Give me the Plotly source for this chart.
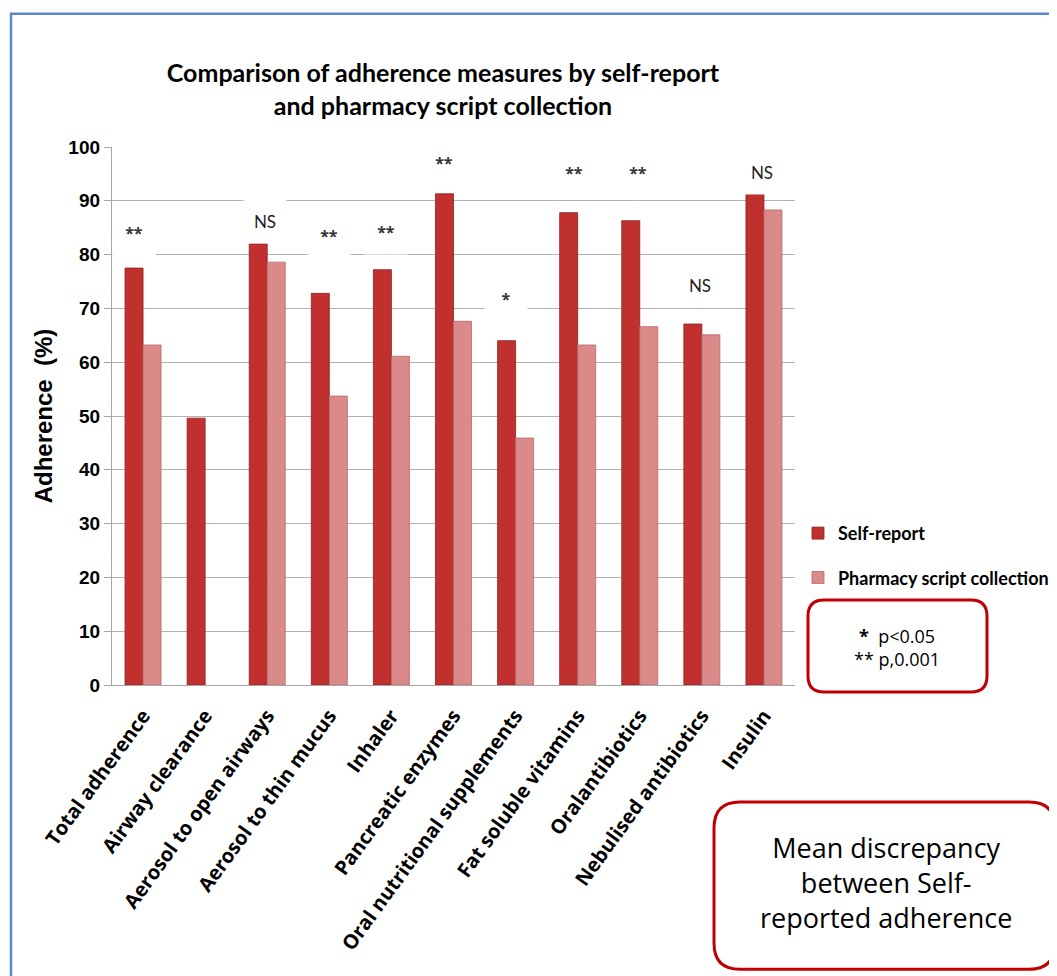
import plotly.graph_objects as go

categories = ["Total adherence", "Airway clearance", "Aerosol to open airways",
              "Aerosol to thin mucus", "Inhaler", "Pancreatic enzymes",
              "Oral nutritional supplements", "Fat soluble vitamins",
              "Oralantibiotics", "Nebulised antibiotics", "Insulin"]
self_report = [77.5, 49.6, 82.0, 72.8, 77.2, 91.3, 64.0, 87.8, 86.3, 67.1, 91.3]
pharmacy = [63.2, None, 78.6, 53.7, 61.1, 67.6, 45.9, 63.2, 66.6, 65.1, 88.3]
sig_labels = ["**", "", "NS", "**", "**", "**", "*", "**", "**", "NS", "NS"]
sig_label_y = [84.1, None, 86.3, 83.4, 84.2, 97.0, 71.7, 95.1, 95.2, 74.4, 95.4]
sig_xshift = [-9, 0, -2, 0, -5, -10, -10, -4, -2, -2, -2]
y_ticks = list(range(0, 101, 10))

OFF = 8  # page body margin
W, H = 1057 - OFF, 976 - OFF
# plot area in reference (page) pixels
L0, R0, T0, B0 = 112, 795, 147.3, 685
L, R, T, B = L0 - OFF, R0 - OFF, T0 - OFF, B0 - OFF


def px(x):
    return (x - L0) / (R0 - L0)


def py(y):
    return (B0 - y) / (B0 - T0)


def rrect(x0, y0, x1, y1, r):
    pts = [
        f"M {px(x0 + r)} {py(y0)}",
        f"L {px(x1 - r)} {py(y0)}",
        f"Q {px(x1)} {py(y0)} {px(x1)} {py(y0 + r)}",
        f"L {px(x1)} {py(y1 - r)}",
        f"Q {px(x1)} {py(y1)} {px(x1 - r)} {py(y1)}",
        f"L {px(x0 + r)} {py(y1)}",
        f"Q {px(x0)} {py(y1)} {px(x0)} {py(y1 - r)}",
        f"L {px(x0)} {py(y0 + r)}",
        f"Q {px(x0)} {py(y0)} {px(x0 + r)} {py(y0)}",
        "Z",
    ]
    return " ".join(pts)


NARROW = "Lato, Open Sans, sans-serif"
REG = "Open Sans, Noto Sans, sans-serif"
ARIAL = "Liberation Sans, Arial, sans-serif"

fig = go.Figure()
fig.add_trace(go.Bar(x=categories, y=self_report, name="Self-report",
                     legendgroup="a",
                     marker=dict(color="#C0302E", line=dict(color="#8E1F1F", width=0.8))))
fig.add_trace(go.Bar(x=categories, y=pharmacy, name="Pharmacy script collection",
                     legendgroup="b",
                     marker=dict(color="#DB8A8A", line=dict(color="#B56A6A", width=0.8))))

annotations = []
for c, s, yv, xs in zip(categories, sig_labels, sig_label_y, sig_xshift):
    if not s:
        continue
    if s == "NS":
        f = dict(family=NARROW, size=17, color="#222222")
    else:
        f = dict(family=REG, size=16, color="#333333", weight="bold")
    annotations.append(dict(
        x=c, y=yv, xref="x", yref="y", text=s, showarrow=False,
        xshift=xs, width=42, height=44, bgcolor="white", borderpad=0, font=f,
    ))

annotations.append(dict(
    x=px(897), y=py(648), xref="paper", yref="paper", showarrow=False,
    xanchor="center", yanchor="middle",
    text="<b>*</b>  p<0.05<br>** p,0.001", align="center",
    font=dict(family=REG, size=18, color="black"),
))
annotations.append(dict(
    x=px(886), y=py(882), xref="paper", yref="paper", showarrow=False,
    xanchor="center", yanchor="middle",
    text="Mean discrepancy<br>between Self-<br>reported adherence", align="center",
    font=dict(family=REG, size=27, color="black"),
))

shapes = [
    dict(type="path", xref="paper", yref="paper", path=rrect(808, 600, 987, 692, 16),
         line=dict(color="#C00000", width=3)),
    dict(type="path", xref="paper", yref="paper", path=rrect(714, 802, 1055, 969, 26),
         line=dict(color="#C00000", width=3)),
    dict(type="rect", xref="paper", yref="paper", x0=px(11), x1=px(1075), y0=py(14), y1=py(995),
         line=dict(color="#5B87C5", width=2.5)),
]

fig.update_layout(
    width=W, height=H,
    margin=dict(l=L, r=W - R, t=T, b=H - B, autoexpand=False),
    paper_bgcolor="white", plot_bgcolor="white",
    barmode="group", bargap=0.42, bargroupgap=0.0,
    title=dict(text="Comparison of adherence measures by self-report<br>and pharmacy script collection",
               x=(443 - OFF) / W, xanchor="center", y=1 - (82 - OFF) / H, yanchor="middle",
               font=dict(family=NARROW, size=25, color="black", weight="bold")),
    legend=dict(x=px(798), y=py(515), xanchor="left", yanchor="top",
                itemwidth=30,
                font=dict(family=NARROW, size=18, color="black", weight="bold"),
                tracegroupgap=18, bgcolor="rgba(0,0,0,0)"),
    annotations=annotations,
    shapes=shapes,
    xaxis=dict(tickangle=-54, ticklabelstandoff=10,
               tickfont=dict(family=REG, size=20, color="black", weight="bold"),
               showline=True, linecolor="#A6A6A6", linewidth=1.3,
               ticks="", showgrid=False),
    yaxis=dict(range=[0, 100], tickvals=y_ticks,
               tickfont=dict(family=ARIAL, size=19, color="black", weight="bold"),
               showline=True, linecolor="#A6A6A6", linewidth=1.3,
               ticks="outside", ticklen=7, tickcolor="#A6A6A6",
               showgrid=True, gridcolor="#B3B3B3", gridwidth=1.2,
               title=dict(text="<b>Adherence  (%)</b>", standoff=8,
                          font=dict(family=ARIAL, size=24, color="black"))),
)

fig.write_html("out.html")
